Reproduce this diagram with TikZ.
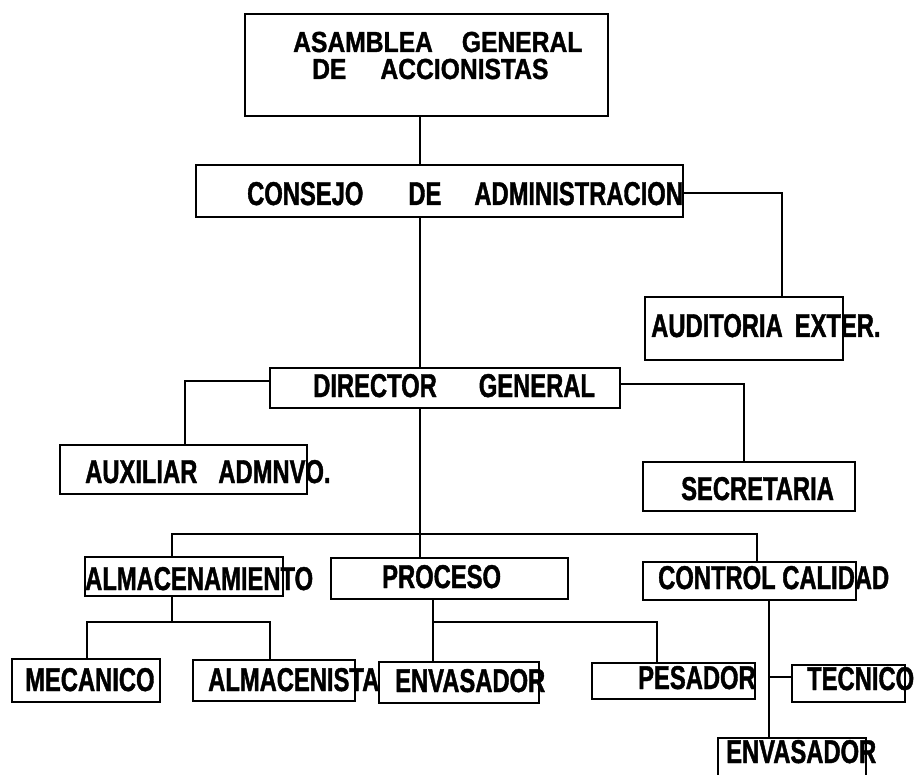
\documentclass[tikz,border=0pt]{standalone}
\usepackage{fontspec}
\setmainfont{Liberation Sans}[FakeStretch=0.72,BoldFeatures={FakeBold=1.2}]
\newfontfamily\asamfont{Liberation Sans}[FakeStretch=0.85,BoldFeatures={FakeBold=1.2}]
\begin{document}
\begin{tikzpicture}[x=1pt,y=-1pt,
  box/.style={draw, line width=1.6pt, inner sep=0pt, rectangle},
  txt/.style={anchor=base west, inner sep=0pt, font=\fontsize{33}{33}\selectfont\bfseries},
  atxt/.style={anchor=base west, inner sep=0pt, font=\asamfont\fontsize{29}{29}\selectfont\bfseries},
  conn/.style={draw, line width=1.6pt, line cap=rect}]
\useasboundingbox (0,0) rectangle (915,775);
% boxes
\node[box, minimum width=363pt, minimum height=102pt] (asam) at (426.5,65) {};
\node[box, minimum width=487pt, minimum height=52pt] (cons) at (439.5,191) {};
\node[box, minimum width=198pt, minimum height=63pt] (aud) at (744,328.5) {};
\node[box, minimum width=350pt, minimum height=40pt] (dir) at (445,388) {};
\node[box, minimum width=247pt, minimum height=49pt] (aux) at (183.5,469.5) {};
\node[box, minimum width=212pt, minimum height=49pt] (sec) at (749,486.5) {};
\node[box, minimum width=198pt, minimum height=39pt] (alm) at (184,576.5) {};
\node[box, minimum width=237pt, minimum height=41pt] (proc) at (449.5,578.5) {};
\node[box, minimum width=213pt, minimum height=38pt] (cc) at (749.5,581) {};
\node[box, minimum width=148pt, minimum height=43pt] (mec) at (86,680.5) {};
\node[box, minimum width=162pt, minimum height=41pt] (alms) at (274,680.5) {};
\node[box, minimum width=160pt, minimum height=41pt] (env1) at (459,682.5) {};
\node[box, minimum width=163pt, minimum height=36pt] (pes) at (673.5,681) {};
\node[box, minimum width=113pt, minimum height=37pt] (tec) at (848.5,683.5) {};
\node[box, minimum width=148pt, minimum height=62pt] (env2) at (792,769) {};
% texts
\node[atxt] (tasam1) at (293,52) {ASAMBLEA\hspace{29pt}GENERAL};
\node[atxt] (tasam2) at (312,79) {DE\hspace{34pt}ACCIONISTAS};
\node[txt] (tcons) at (247,205) {CONSEJO\hspace{45pt}DE\hspace{33pt}ADMINISTRACION};
\node[txt] (taud) at (651,337) {AUDITORIA\hspace{12pt}EXTER.};
\node[txt] (tdir) at (313,397) {DIRECTOR\hspace{42pt}GENERAL};
\node[txt] (taux) at (85,483) {AUXILIAR\hspace{21pt}ADMNVO.};
\node[txt] (tsec) at (681,500) {SECRETARIA};
\node[txt] (talm) at (85,590) {ALMACENAMIENTO};
\node[txt] (tproc) at (382,588) {PROCESO};
\node[txt] (tcc) at (658,589) {CONTROL CALIDAD};
\node[txt] (tmec) at (25,691) {MECANICO};
\node[txt] (talms) at (208,691) {ALMACENISTA};
\node[txt] (tenv1) at (395,692) {ENVASADOR};
\node[txt] (tpes) at (638,689) {PESADOR};
\node[txt] (ttec) at (807,690) {TECNICO};
\node[txt] (tenv2) at (726,763) {ENVASADOR};
% connector coordinates
\coordinate (trunk) at (420,0);
\coordinate (audx) at (782,193);
\coordinate (auxc) at (185,381);
\coordinate (secc) at (744,384);
\coordinate (busL) at (172,534);
\coordinate (busR) at (757,534);
\coordinate (almx) at (172,622);
\coordinate (mecx) at (87,622);
\coordinate (almsx) at (270,622);
\coordinate (procx) at (433,622);
\coordinate (pesx) at (657,622);
\coordinate (ccx) at (769,677);
% connectors
\draw[conn] (trunk |- asam.south) -- (trunk |- cons.north);
\draw[conn] (trunk |- cons.south) -- (trunk |- dir.north);
\draw[conn] (trunk |- dir.south) -- (trunk |- proc.north);
\draw[conn] (cons.east |- audx) -- (audx) -- (audx |- aud.north);
\draw[conn] (dir.west |- auxc) -- (auxc) -- (auxc |- aux.north);
\draw[conn] (dir.east |- secc) -- (secc) -- (secc |- sec.north);
\draw[conn] (busL |- alm.north) -- (busL) -- (busR) -- (busR |- cc.north);
\draw[conn] (almx |- alm.south) -- (almx);
\draw[conn] (mecx |- mec.north) -- (mecx) -- (almsx) -- (almsx |- alms.north);
\draw[conn] (procx |- proc.south) -- (procx |- env1.north);
\draw[conn] (procx) -- (pesx) -- (pesx |- pes.north);
\draw[conn] (ccx |- cc.south) -- (ccx |- env2.north);
\draw[conn] (ccx) -- (ccx -| tec.west);
\end{tikzpicture}
\end{document}
